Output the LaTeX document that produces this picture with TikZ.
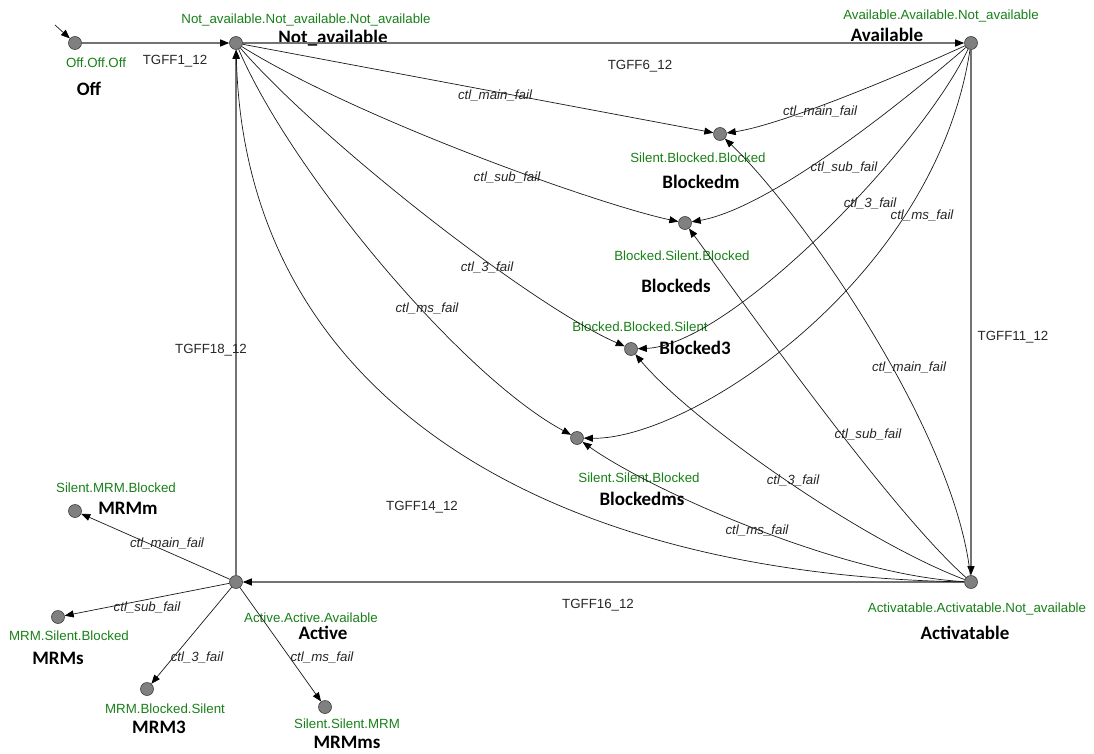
\documentclass[tikz,border=0pt]{standalone}
\usepackage{fontspec}
\setmainfont{Liberation Sans}
\newfontfamily\namefont{Carlito}
\usetikzlibrary{arrows.meta}
\definecolor{codegreen}{RGB}{24,128,24}
\begin{document}
\begin{tikzpicture}[x=1pt,y=-1pt,
  state/.style={circle, draw=black!75, fill=black!50, line width=0.6pt, minimum size=13pt, inner sep=0pt},
  code/.style={text=codegreen, font=\fontsize{13.3}{15}\selectfont, inner sep=0pt},
  sname/.style={font=\namefont\bfseries\fontsize{19}{22}\selectfont, inner sep=0pt},
  evt/.style={font=\fontsize{13.3}{15}\selectfont\itshape, text=black!85, inner sep=0pt},
  tgff/.style={font=\fontsize{13.3}{15}\selectfont, text=black!85, inner sep=0pt},
  tip/.tip={Triangle[length=9pt,width=7pt,color=black]},
  trans/.style={draw=black!90, line width=0.7pt, -tip},
  tline/.style={draw=black!55, line width=1.1pt, -tip}
]
\useasboundingbox (0,0) rectangle (1094,754);

% states
\node[state] (Off) at (75,43) {};
\node[state] (NA)  at (236,43) {};
\node[state] (AV)  at (971,43) {};
\node[state] (Bm)  at (720,134) {};
\node[state] (Bs)  at (685,223) {};
\node[state] (B3)  at (631,349) {};
\node[state] (Bms) at (577,438) {};
\node[state] (AC)  at (971,582) {};
\node[state] (A)   at (236,582) {};
\node[state] (Mm)  at (75,511) {};
\node[state] (Ms)  at (58,617) {};
\node[state] (M3)  at (147,689) {};
\node[state] (Mms) at (325,707) {};

% state codes and names
\node[code] (OffC) at (96,63) {Off.Off.Off};
\node[sname] (OffN) at (89,89) {Off};
\node[code] (NAC) at (306,20) {Not\_available.Not\_available.Not\_available};
\node[sname] (NAN) at (333,38) {Not\_available};
\node[code] (AVC) at (941,16) {Available.Available.Not\_available};
\node[sname] (AVN) at (887,35) {Available};
\node[code] (BmC) at (698,158) {Silent.Blocked.Blocked};
\node[sname] (BmN) at (701,182) {Blockedm};
\node[code] (BsC) at (682,256) {Blocked.Silent.Blocked};
\node[sname] (BsN) at (676,286) {Blockeds};
\node[code] (B3C) at (640,327) {Blocked.Blocked.Silent};
\node[sname] (B3N) at (695,348) {Blocked3};
\node[code] (BmsC) at (639,478) {Silent.Silent.Blocked};
\node[sname] (BmsN) at (642,499) {Blockedms};
\node[code] (ACC) at (977,609) {Activatable.Activatable.Not\_available};
\node[sname] (ACN) at (965,633) {Activatable};
\node[code] (AC2) at (311,618) {Active.Active.Available};
\node[sname] (AN) at (323,633) {Active};
\node[code] (MmC) at (116,488) {Silent.MRM.Blocked};
\node[sname] (MmN) at (128,508) {MRMm};
\node[code] (MsC) at (69,636) {MRM.Silent.Blocked};
\node[sname] (MsN) at (58,658) {MRMs};
\node[code] (M3C) at (165,709) {MRM.Blocked.Silent};
\node[sname] (M3N) at (159,727) {MRM3};
\node[code] (MmsC) at (347,724) {Silent.Silent.MRM};
\node[sname] (MmsN) at (347,742) {MRMms};

% initial state
\coordinate (init) at (55,25);
\draw[trans] (init) -- (Off);

% main mode transitions
\draw[tline] (Off) -- (NA);
\draw[tline] (NA) -- (AV);
\draw[tline] (AV) -- (AC);
\draw[tline] (AC) -- (A);
\draw[tline] (A) -- (NA);
\draw[trans] (AC) .. controls (550,575) and (245,400) .. (NA);

\node[tgff] (t1)  at (175,61)  {TGFF1\_12};
\node[tgff] (t6)  at (640,66)  {TGFF6\_12};
\node[tgff] (t11) at (1013,337) {TGFF11\_12};
\node[tgff] (t16) at (598,605) {TGFF16\_12};
\node[tgff] (t18) at (211,350) {TGFF18\_12};
\node[tgff] (t14) at (422,507) {TGFF14\_12};

% failures from Not_available
\draw[trans] (NA) -- (Bm);
\draw[trans] (NA) .. controls (360,120) and (600,205) .. (Bs);
\draw[trans] (NA) .. controls (320,140) and (530,305) .. (B3);
\draw[trans] (NA) .. controls (290,170) and (460,375) .. (Bms);
\node[evt] (e1) at (495,95)  {ctl\_main\_fail};
\node[evt] (e2) at (507,177) {ctl\_sub\_fail};
\node[evt] (e3) at (487,267) {ctl\_3\_fail};
\node[evt] (e4) at (427,308) {ctl\_ms\_fail};

% failures from Available
\draw[trans] (AV) .. controls (890,80) and (780,125) .. (Bm);
\draw[trans] (AV) .. controls (870,130) and (760,210) .. (Bs);
\draw[trans] (AV) .. controls (920,150) and (730,345) .. (B3);
\draw[trans] (AV) .. controls (935,280) and (690,440) .. (Bms);
\node[evt] (e5) at (820,111) {ctl\_main\_fail};
\node[evt] (e6) at (844,167) {ctl\_sub\_fail};
\node[evt] (e7) at (870,203) {ctl\_3\_fail};
\node[evt] (e8) at (922,215) {ctl\_ms\_fail};

% failures from Activatable
\draw[trans] (AC) .. controls (955,430) and (800,210) .. (Bm);
\draw[trans] (AC) .. controls (890,510) and (745,305) .. (Bs);
\draw[trans] (AC) .. controls (860,540) and (690,420) .. (B3);
\draw[trans] (AC) .. controls (840,575) and (650,490) .. (Bms);
\node[evt] (e9)  at (909,367) {ctl\_main\_fail};
\node[evt] (e10) at (868,434) {ctl\_sub\_fail};
\node[evt] (e11) at (793,480) {ctl\_3\_fail};
\node[evt] (e12) at (757,530) {ctl\_ms\_fail};

% failures from Active
\draw[trans] (A) -- (Mm);
\draw[trans] (A) -- (Ms);
\draw[trans] (A) -- (M3);
\draw[trans] (A) -- (Mms);
\node[evt] (e13) at (167,543) {ctl\_main\_fail};
\node[evt] (e14) at (147,607) {ctl\_sub\_fail};
\node[evt] (e15) at (197,657) {ctl\_3\_fail};
\node[evt] (e16) at (322,657) {ctl\_ms\_fail};
\end{tikzpicture}
\end{document}
